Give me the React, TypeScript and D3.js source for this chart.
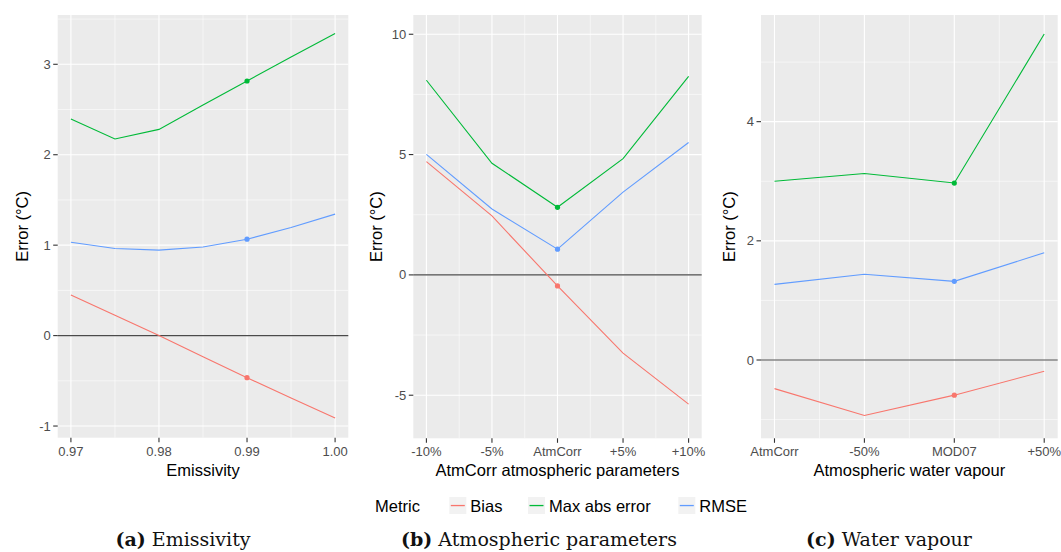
import { useEffect, useRef } from 'react';
import * as d3 from 'd3';

const metrics = ['Bias', 'Max abs error', 'RMSE'];
const metricColors = ['#F8766D', '#00BA38', '#619CFF'];

// (a) emissivity
const emisX = [0.97, 0.975, 0.98, 0.985, 0.99, 0.995, 1.0];
const emisBias = [0.45, 0.225, 0.0, -0.235, -0.465, -0.69, -0.91];
const emisMax = [2.395, 2.174, 2.28, 2.55, 2.815, 3.08, 3.34];
const emisRmse = [1.033, 0.963, 0.945, 0.98, 1.066, 1.195, 1.343];
const emisTicks = [0.97, 0.98, 0.99, 1.0];
const emisTickLabels = ['0.97', '0.98', '0.99', '1.00'];

// (b) atmospheric parameters
const atmX = [-10, -5, 0, 5, 10];
const atmLabels = ['-10%', '-5%', 'AtmCorr', '+5%', '+10%'];
const atmBias = [4.71, 2.45, -0.46, -3.25, -5.37];
const atmMax = [8.09, 4.64, 2.81, 4.83, 8.25];
const atmRmse = [5.01, 2.74, 1.07, 3.44, 5.5];

// (c) water vapour
const wvX = [0, 1, 2, 3];
const wvLabels = ['AtmCorr', '-50%', 'MOD07', '+50%'];
const wvBias = [-0.48, -0.93, -0.59, -0.19];
const wvMax = [3.0, 3.13, 2.97, 5.47];
const wvRmse = [1.27, 1.44, 1.32, 1.8];

const panels = [
    {
        left: 57.7, right: 348.3, top: 15, bottom: 437.7,
        xDomain: [0.9685, 1.0015], yDomain: [-1.129, 3.545],
        x: emisX, series: [emisBias, emisMax, emisRmse], highlight: 4,
        xTicks: emisTicks, xLabels: emisTickLabels, xMinor: [0.975, 0.985, 0.995],
        yTicks: [-1, 0, 1, 2, 3], yMinor: [-0.5, 0.5, 1.5, 2.5, 3.5],
        xTitle: 'Emissivity', yTitleX: 27.5,
        capTag: '(a)', capText: ' Emissivity', capX: 183,
    },
    {
        left: 413.3, right: 701.7, top: 15, bottom: 438.3,
        xDomain: [-11, 11], yDomain: [-6.79, 10.8],
        x: atmX, series: [atmBias, atmMax, atmRmse], highlight: 2,
        xTicks: atmX, xLabels: atmLabels, xMinor: [-7.5, -2.5, 2.5, 7.5],
        yTicks: [-5, 0, 5, 10], yMinor: [-2.5, 2.5, 7.5],
        xTitle: 'AtmCorr atmospheric parameters', yTitleX: 381.5,
        capTag: '(b)', capText: ' Atmospheric parameters', capX: 539,
    },
    {
        left: 761, right: 1057.7, top: 15, bottom: 438.3,
        xDomain: [-0.15, 3.15], yDomain: [-1.314, 5.79],
        x: wvX, series: [wvBias, wvMax, wvRmse], highlight: 2,
        xTicks: wvX, xLabels: wvLabels, xMinor: [0.5, 1.5, 2.5],
        yTicks: [0, 2, 4], yMinor: [-1, 1, 3, 5],
        xTitle: 'Atmospheric water vapour', yTitleX: 735,
        capTag: '(c)', capText: ' Water vapour', capX: 889,
    },
];

const SANS = '"Liberation Sans", Arial, sans-serif';
const SERIF = '"DejaVu Serif", serif';

export default function App() {
    const svgRef = useRef<SVGSVGElement | null>(null);

    useEffect(() => {
        if (!svgRef.current) return;
        const svg = d3.select(svgRef.current);
        svg.selectAll('*').remove();

        panels.forEach((p) => {
            const xs = d3.scaleLinear().domain(p.xDomain).range([p.left, p.right]);
            const ys = d3.scaleLinear().domain(p.yDomain).range([p.bottom, p.top]);
            const g = svg.append('g');

            // panel background
            g.append('rect')
                .attr('x', p.left).attr('y', p.top)
                .attr('width', p.right - p.left).attr('height', p.bottom - p.top)
                .attr('fill', '#EBEBEB');

            // minor grid
            p.yMinor.forEach((v) => {
                g.append('line')
                    .attr('x1', p.left).attr('x2', p.right)
                    .attr('y1', ys(v)).attr('y2', ys(v))
                    .attr('stroke', '#fff').attr('stroke-width', 0.55);
            });
            p.xMinor.forEach((v) => {
                g.append('line')
                    .attr('x1', xs(v)).attr('x2', xs(v))
                    .attr('y1', p.top).attr('y2', p.bottom)
                    .attr('stroke', '#fff').attr('stroke-width', 0.55);
            });
            // major grid
            p.yTicks.forEach((v) => {
                g.append('line')
                    .attr('x1', p.left).attr('x2', p.right)
                    .attr('y1', ys(v)).attr('y2', ys(v))
                    .attr('stroke', '#fff').attr('stroke-width', 1.1);
            });
            p.xTicks.forEach((v) => {
                g.append('line')
                    .attr('x1', xs(v)).attr('x2', xs(v))
                    .attr('y1', p.top).attr('y2', p.bottom)
                    .attr('stroke', '#fff').attr('stroke-width', 1.1);
            });

            // zero line
            g.append('line')
                .attr('x1', p.left).attr('x2', p.right)
                .attr('y1', ys(0)).attr('y2', ys(0))
                .attr('stroke', '#4a4a4a').attr('stroke-width', 1.2);

            // data lines + highlighted point
            const line = d3.line<number>()
                .x((_, i) => xs(p.x[i]))
                .y((d) => ys(d));
            p.series.forEach((vals, k) => {
                g.append('path')
                    .attr('d', line(vals))
                    .attr('fill', 'none')
                    .attr('stroke', metricColors[k])
                    .attr('stroke-width', 1.1);
                g.append('circle')
                    .attr('cx', xs(p.x[p.highlight]))
                    .attr('cy', ys(vals[p.highlight]))
                    .attr('r', 2.6)
                    .attr('fill', metricColors[k]);
            });

            // y axis ticks + labels
            p.yTicks.forEach((v) => {
                g.append('line')
                    .attr('x1', p.left - 4.5).attr('x2', p.left)
                    .attr('y1', ys(v)).attr('y2', ys(v))
                    .attr('stroke', '#333').attr('stroke-width', 1.1);
                g.append('text')
                    .attr('x', p.left - 7).attr('y', ys(v))
                    .attr('dy', '0.35em')
                    .attr('text-anchor', 'end')
                    .attr('font-family', SANS).attr('font-size', 13)
                    .attr('fill', '#4D4D4D')
                    .text(v);
            });

            // x axis ticks + labels
            p.xTicks.forEach((v, i) => {
                g.append('line')
                    .attr('x1', xs(v)).attr('x2', xs(v))
                    .attr('y1', p.bottom).attr('y2', p.bottom + 4.5)
                    .attr('stroke', '#333').attr('stroke-width', 1.1);
                g.append('text')
                    .attr('x', xs(v)).attr('y', 455.5)
                    .attr('text-anchor', 'middle')
                    .attr('font-family', SANS).attr('font-size', 13)
                    .attr('fill', '#4D4D4D')
                    .text(p.xLabels[i]);
            });

            // axis titles
            g.append('text')
                .attr('x', (p.left + p.right) / 2).attr('y', 476)
                .attr('text-anchor', 'middle')
                .attr('font-family', SANS).attr('font-size', 16.5)
                .attr('fill', '#000')
                .text(p.xTitle);
            g.append('text')
                .attr('transform', `translate(${p.yTitleX},${(p.top + p.bottom) / 2}) rotate(-90)`)
                .attr('text-anchor', 'middle')
                .attr('font-family', SANS).attr('font-size', 16.5)
                .attr('fill', '#000')
                .text('Error (°C)');

            // caption
            const cap = svg.append('text')
                .attr('x', p.capX).attr('y', 545.5)
                .attr('text-anchor', 'middle')
                .attr('font-family', SERIF).attr('font-size', 19)
                .attr('fill', '#111');
            cap.append('tspan').attr('font-weight', 'bold').text(p.capTag);
            cap.append('tspan').text(p.capText);
        });

        // legend
        const lg = svg.append('g');
        lg.append('text')
            .attr('x', 375).attr('y', 511.5)
            .attr('font-family', SANS).attr('font-size', 16.5)
            .text('Metric');
        const keyX = [449.3, 528, 678.3];
        metrics.forEach((m, k) => {
            lg.append('rect')
                .attr('x', keyX[k]).attr('y', 497)
                .attr('width', 17).attr('height', 17)
                .attr('fill', '#F2F2F2');
            lg.append('rect')
                .attr('x', keyX[k] + 1.5).attr('y', 504.9)
                .attr('width', 14).attr('height', 1.3)
                .attr('fill', metricColors[k]);
            lg.append('text')
                .attr('x', keyX[k] + 21).attr('y', 511.5)
                .attr('font-family', SANS).attr('font-size', 16.5)
                .text(m);
        });
    }, []);

    return (
        <svg
            ref={svgRef}
            width={1061}
            height={552}
            style={{ position: 'absolute', left: 0, top: 0, background: '#fff' }}
        ></svg>
    );
}
